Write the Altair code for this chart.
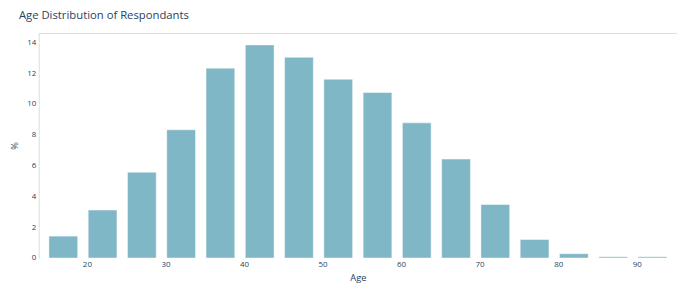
import altair as alt
import pandas as pd

age_bins = [17, 22, 27, 32, 37, 42, 47, 52, 57, 62, 67, 72, 77, 82, 87, 92]
percent = [1.42, 3.11, 5.56, 8.32, 12.32, 13.83, 13.02, 11.6, 10.74, 8.77, 6.42, 3.47, 1.2, 0.28, 0.08, 0.08]
x_ticks = [20, 30, 40, 50, 60, 70, 80, 90]
y_ticks = [0, 2, 4, 6, 8, 10, 12, 14]

df = pd.DataFrame({"age": age_bins, "pct": percent})

FONT = "Open Sans"
TXT = "#2a3f5f"

chart = (
    alt.Chart(df, title=alt.TitleParams(
        "Age Distribution of Respondants", anchor="start", frame="group", dx=-20, offset=3,
        baseline="alphabetic", font=FONT, fontSize=11.4, fontWeight="normal", color=TXT))
    .mark_bar(width=29, color="#80b7c7", stroke="#ffffff", strokeWidth=1, strokeOpacity=0.45)
    .encode(
        x=alt.X("age:Q", title="Age",
                scale=alt.Scale(domain=[14.5, 94.5], nice=False, zero=False),
                axis=alt.Axis(values=x_ticks, grid=False, ticks=False, domain=False,
                              labelFontSize=8, labelColor=TXT, labelFont=FONT, labelPadding=3,
                              titleFont=FONT, titleFontSize=9.4, titleColor=TXT,
                              titleFontWeight="normal", titlePadding=5)),
        y=alt.Y("pct:Q", title="%",
                scale=alt.Scale(domain=[0, 14.6], nice=False),
                axis=alt.Axis(values=y_ticks, grid=True, gridColor="#ffffff", gridWidth=1,
                              ticks=False, domain=False,
                              labelFontSize=8, labelColor=TXT, labelFont=FONT, labelPadding=3,
                              titleFont=FONT, titleFontSize=9.4, titleColor=TXT,
                              titleFontWeight="normal", titleX=-24, titleY=113.5,
                              titleAngle=270, titleAlign="center", titleBaseline="middle")),
    )
    .properties(
        width=644, height=227,
        autosize=alt.AutoSizeParams(type="none"),
        padding={"left": 31, "top": 24, "right": 0, "bottom": 27},
    )
    .configure_view(fill="#E5ECF6", stroke=None)
    .configure(background="white")
)

chart.save("out.html", embed_options={"renderer": "svg", "actions": False})
